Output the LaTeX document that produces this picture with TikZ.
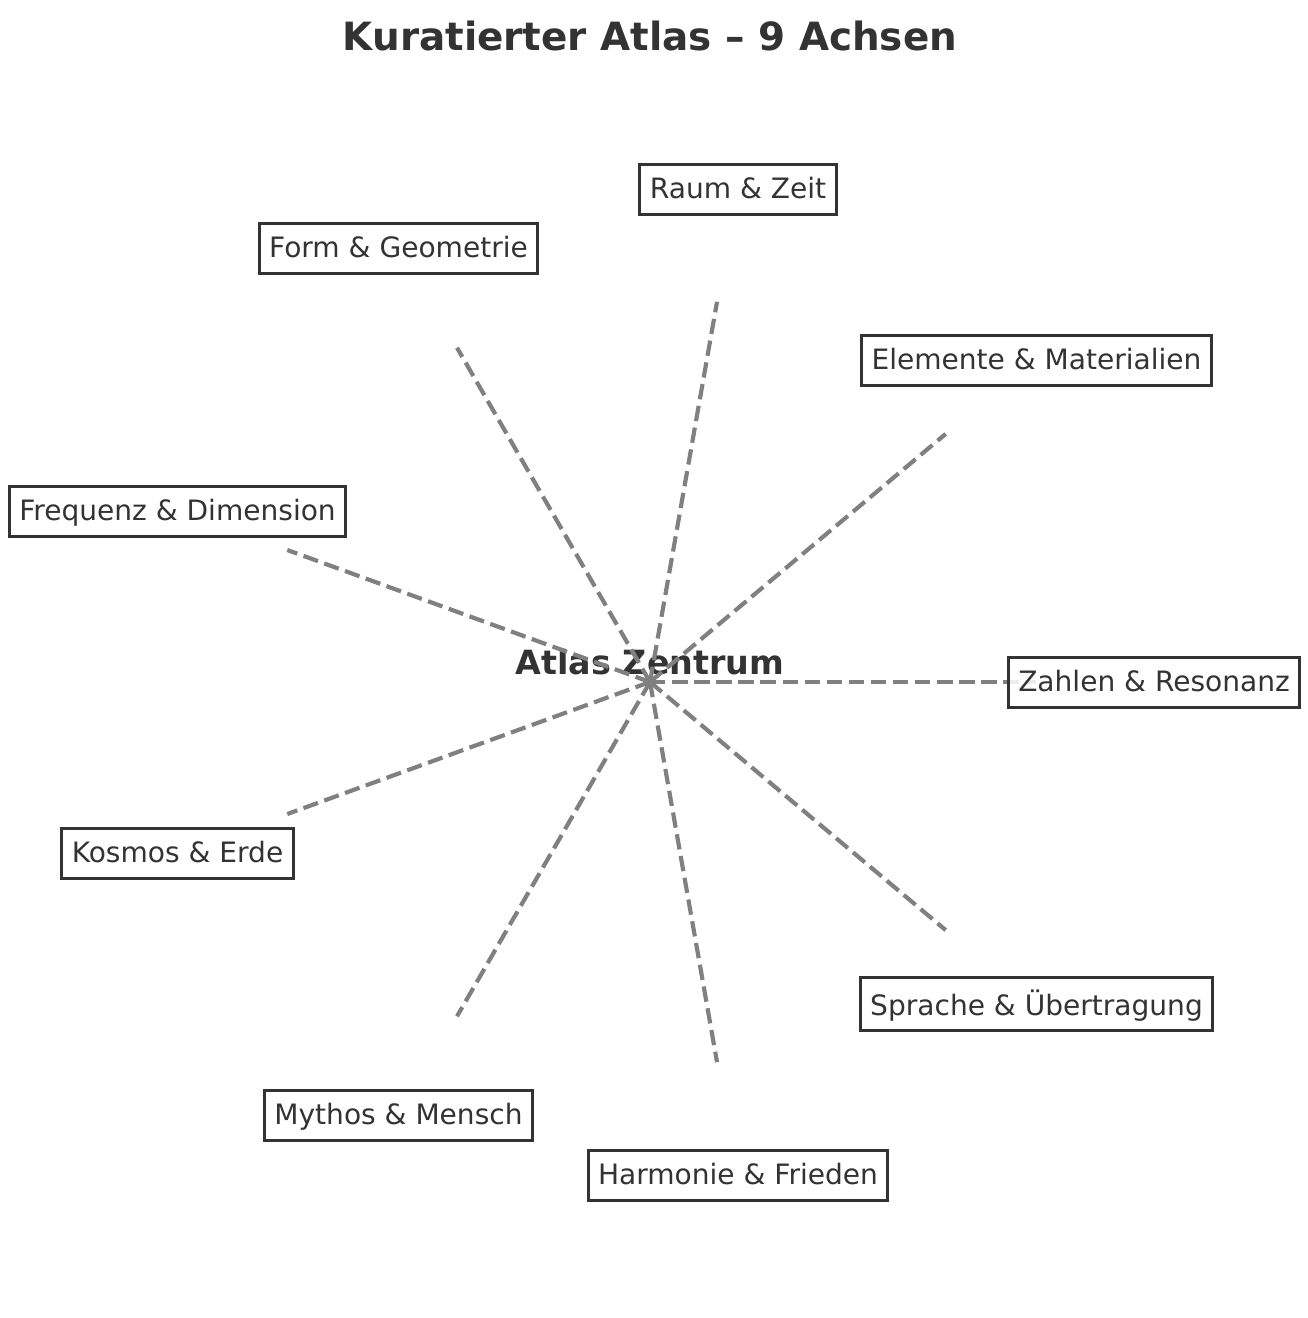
\documentclass[tikz,border=0pt]{standalone}
\usepackage{fontspec}
\usetikzlibrary{calc}
\setmainfont{DejaVu Sans}
\definecolor{textc}{HTML}{333333}
\definecolor{axisc}{HTML}{808080}
\tikzset{
  atlasbox/.style={draw=textc, line width=1.1pt, fill=white, fill opacity=0.85, text opacity=1,
    text=textc, font=\fontsize{10.1}{12}\selectfont, inner xsep=3.6pt, inner ysep=3.2pt,
    text height=0.9em, text depth=0.25em, rectangle},
  axisline/.style={draw=axisc, line width=1.5pt, dash pattern=on 5.55pt off 2.4pt},
}
\begin{document}
\begin{tikzpicture}[x=0.36pt,y=-0.36pt]
\useasboundingbox (0,0) rectangle (1308,1318);
\fill[white] (0,0) rectangle (1308,1318);
\node[anchor=base, text=textc, font=\fontsize{14}{16}\selectfont\bfseries] (title) at (650,50) {Kuratierter Atlas – 9 Achsen};
\coordinate (c) at (650,682);
\fill[black] (c) circle[radius=5];
\node[anchor=base, text=textc, font=\fontsize{12}{14}\selectfont\bfseries] (zlabel) at (650,674) {Atlas Zentrum};
\foreach \a/\n in {0/e0,40/e1,80/e2,120/e3,160/e4,200/e5,240/e6,280/e7,320/e8}{
  \coordinate (\n) at ($(c)+(-\a:386)$);
  \draw[axisline] (c) -- (\n);
}
\node[atlasbox] (raum) at (738,189.5) {Raum \& Zeit};
\node[atlasbox] (form) at (398.5,248.5) {Form \& Geometrie};
\node[atlasbox] (elem) at (1036.5,360.5) {Elemente \& Materialien};
\node[atlasbox] (freq) at (177.5,511.5) {Frequenz \& Dimension};
\node[atlasbox] (zahl) at (1154,682.5) {Zahlen \& Resonanz};
\node[atlasbox] (kosm) at (177.5,853.5) {Kosmos \& Erde};
\node[atlasbox, text height=1.05em] (spra) at (1036.5,1004) {Sprache \& Übertragung};
\node[atlasbox] (myth) at (398.5,1115.5) {Mythos \& Mensch};
\node[atlasbox] (harm) at (738,1175.5) {Harmonie \& Frieden};
\end{tikzpicture}
\end{document}
